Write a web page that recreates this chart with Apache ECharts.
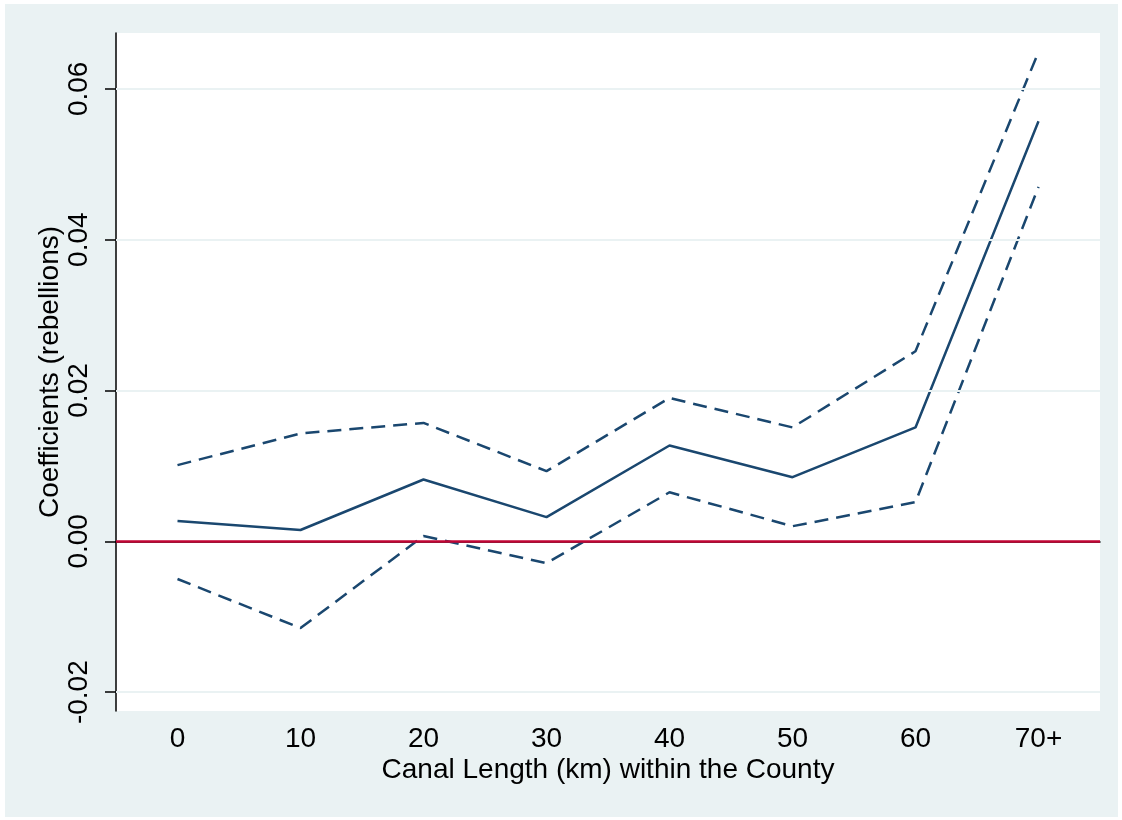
<!DOCTYPE html>
<html>
<head>
<meta charset="utf-8">
<script src="https://cdn.jsdelivr.net/npm/echarts@6/dist/echarts.min.js"></script>
<style>
  html, body { margin: 0; padding: 0; background: #fff; }
  #chart { width: 1122px; height: 820px; }
</style>
</head>
<body>
<div id="chart"></div>
<script>
var categories = ['0', '10', '20', '30', '40', '50', '60', '70+'];
var coef  = [0.0027, 0.0015, 0.0082, 0.0032, 0.0127, 0.0085, 0.0151, 0.0557];
var upper = [0.0101, 0.0143, 0.0157, 0.0093, 0.0190, 0.0151, 0.0252, 0.0649];
var lower = [-0.0050, -0.0115, 0.0007, -0.0029, 0.0065, 0.0020, 0.0052, 0.0470];
var yTicks = [-0.02, 0, 0.02, 0.04, 0.06];

var navy = '#1a476f';
var font = 'Liberation Sans, Arial, sans-serif';

var chart = echarts.init(document.getElementById('chart'));
chart.setOption({
    animation: false,
    backgroundColor: '#fff',
    textStyle: { fontFamily: font },
    graphic: [{
        type: 'rect', z: -10, silent: true,
        shape: { x: 5, y: 4, width: 1113, height: 813 },
        style: { fill: '#eaf2f3' }
    }],
    grid: {
        left: 116, right: 22, top: 33, bottom: 109,
        show: true, backgroundColor: '#fff', borderWidth: 0
    },
    xAxis: {
        type: 'category',
        data: categories,
        boundaryGap: true,
        name: 'Canal Length (km) within the County',
        nameLocation: 'middle',
        nameGap: 45,
        nameMoveOverlap: false,
        nameTextStyle: { color: '#000', fontSize: 28, fontFamily: font },
        axisLine: { lineStyle: { color: '#000', width: 1.5 } },
        axisTick: { alignWithLabel: true, length: 11, lineStyle: { color: '#000', width: 1.5 } },
        axisLabel: { color: '#000', fontSize: 28, margin: 14, fontFamily: font },
        splitLine: { show: false }
    },
    yAxis: {
        type: 'value',
        min: -0.0225,
        max: 0.0674,
        name: 'Coefficients (rebellions)',
        nameLocation: 'middle',
        nameGap: 52,
        nameRotate: 90,
        nameMoveOverlap: false,
        nameTextStyle: { color: '#000', fontSize: 28, fontFamily: font },
        axisLine: { show: true, lineStyle: { color: '#000', width: 1.5 } },
        axisTick: { show: true, length: 11, customValues: yTicks, lineStyle: { color: '#000', width: 1.5 } },
        axisLabel: {
            color: '#000', fontSize: 28, rotate: 90, margin: 23, fontFamily: font,
            customValues: yTicks,
            formatter: function (v) { return v.toFixed(2); }
        },
        splitLine: { show: false }
    },
    series: [
        {
            type: 'line', name: 'grid', data: [], z: 1, silent: true,
            markLine: {
                silent: true, symbol: 'none', label: { show: false },
                lineStyle: { color: '#eaf2f3', width: 2, type: 'solid' },
                data: yTicks.filter(function (v) { return v !== 0; }).map(function (v) { return { yAxis: v }; })
            }
        },
        {
            type: 'line', name: 'Upper', data: upper, z: 3, symbol: 'none',
            lineStyle: { color: navy, width: 2.5, type: [14, 8] }
        },
        {
            type: 'line', name: 'Lower', data: lower, z: 3, symbol: 'none',
            lineStyle: { color: navy, width: 2.5, type: [14, 8] }
        },
        {
            type: 'line', name: 'Coefficient', data: coef, z: 3, symbol: 'none',
            lineStyle: { color: navy, width: 2.5 },
            markLine: {
                silent: true, symbol: 'none', label: { show: false },
                lineStyle: { color: '#c10534', width: 2.5, type: 'solid' },
                data: [{ yAxis: 0 }]
            }
        }
    ]
});
</script>
</body>
</html>
